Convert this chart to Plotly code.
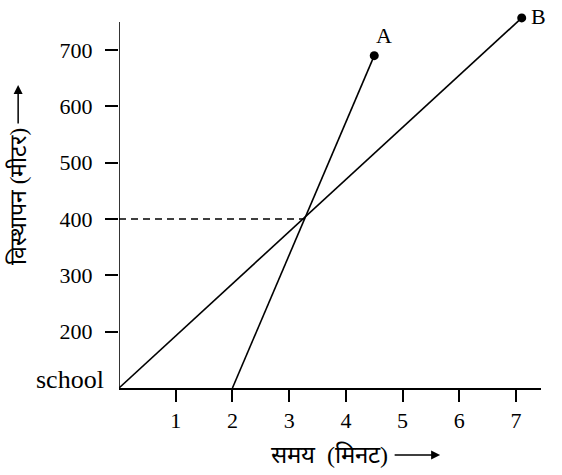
import plotly.graph_objects as go

# Data (origin "school" sits one tick step below 200)
a_x = [2, 4.5]
a_y = [100, 690]
b_x = [0, 7.1]
b_y = [100, 757]
meet_x = [0, 3.26]
meet_y = [400, 400]
x_ticks = [1, 2, 3, 4, 5, 6, 7]
y_ticks = [200, 300, 400, 500, 600, 700]
y_origin = 100
y_axis_top = 750
labels = ["A", "B"]

font = "Liberation Serif"
fig = go.Figure()
fig.add_trace(go.Scatter(x=meet_x, y=meet_y, mode="lines",
                         line=dict(color="black", width=1.3, dash="7px,5px"), showlegend=False))
fig.add_trace(go.Scatter(x=a_x, y=a_y, mode="lines",
                         line=dict(color="black", width=1.6), showlegend=False))
fig.add_trace(go.Scatter(x=b_x, y=b_y, mode="lines",
                         line=dict(color="black", width=1.6), showlegend=False))
fig.add_trace(go.Scatter(x=[a_x[-1], b_x[-1]], y=[a_y[-1], b_y[-1]], mode="markers",
                         marker=dict(color="black", size=9), showlegend=False, cliponaxis=False))
# point labels
fig.add_annotation(x=a_x[-1], y=a_y[-1], text=labels[0], showarrow=False,
                   xanchor="center", yanchor="middle", xshift=10, yshift=20,
                   font=dict(family=font, size=22, color="black"))
fig.add_annotation(x=b_x[-1], y=b_y[-1], text=labels[1], showarrow=False,
                   xanchor="left", yanchor="middle", xshift=7, yshift=1,
                   font=dict(family=font, size=22, color="black"))

# y axis line (stops at 750 as in the reference)
fig.add_shape(type="line", xref="x", yref="y", x0=0, x1=0, y0=y_origin, y1=y_axis_top,
              line=dict(color="black", width=1.6))

fig.add_annotation(x=0, y=y_origin, xref="x", yref="y", text="school", showarrow=False,
                   xanchor="right", yanchor="middle", xshift=-13, yshift=9,
                   font=dict(family=font, size=26, color="black"))

# axis titles with arrows
fig.add_annotation(xref="paper", yref="paper", x=0.642, y=-0.179, text="समय  (मिनट)",
                   showarrow=False, xanchor="right", yanchor="middle",
                   font=dict(family=font, size=24, color="black"))
fig.add_annotation(xref="paper", yref="paper", x=0.761, y=-0.179, ax=-47, ay=0,
                   text="", showarrow=True,
                   arrowhead=2, arrowsize=1.2, arrowwidth=1.5, arrowcolor="black")
fig.add_annotation(xref="paper", yref="paper", x=-0.239, y=0.511, text="विस्थापन (मीटर)",
                   showarrow=False, textangle=-90, xanchor="center", yanchor="middle",
                   font=dict(family=font, size=23, color="black"))
fig.add_annotation(xref="paper", yref="paper", x=-0.239, y=0.81, ax=0, ay=40,
                   text="", showarrow=True,
                   arrowhead=2, arrowsize=1.2, arrowwidth=1.5, arrowcolor="black")

fig.update_xaxes(range=[0, 7.44], tickvals=x_ticks, ticks="outside", ticklen=12, tickwidth=1.6,
                 tickcolor="black", showline=True, linecolor="black", linewidth=1.6,
                 showgrid=False, zeroline=False,
                 tickfont=dict(family=font, size=22, color="black"))
fig.update_yaxes(range=[y_origin, 764], tickvals=y_ticks, ticks="outside", ticklen=13, tickwidth=1.6,
                 tickcolor="black", showline=False,
                 showgrid=False, zeroline=False, ticklabelstandoff=8,
                 tickfont=dict(family=font, size=22, color="black"))
fig.update_layout(width=562, height=475, margin=dict(l=119, r=21, t=14, b=87),
                  plot_bgcolor="white", paper_bgcolor="white")
fig.write_html("out.html", config={"displayModeBar": False},
               post_script="document.body.style.margin='0';")
